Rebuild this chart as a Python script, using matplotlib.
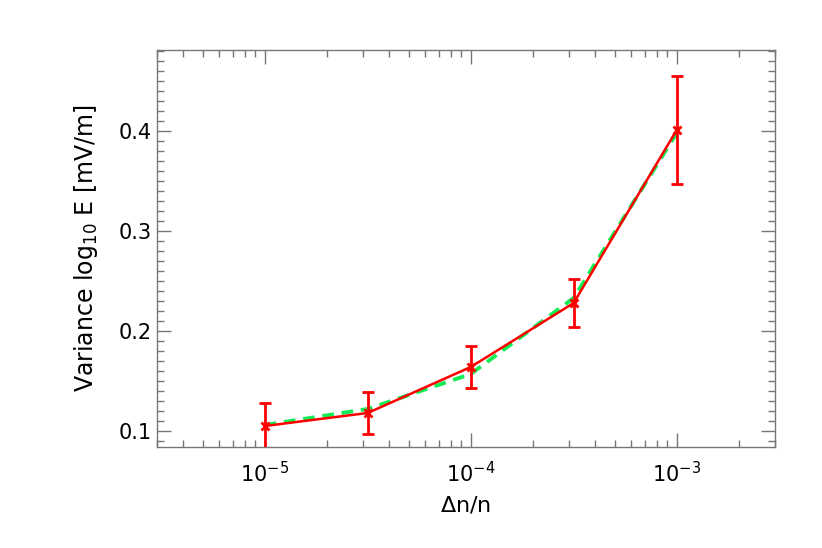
import matplotlib
matplotlib.use("Agg")
import matplotlib.pyplot as plt
import numpy as np
from matplotlib.ticker import LogLocator, MultipleLocator, FixedLocator, NullFormatter

dn_n = [1e-5, 3.16e-5, 1e-4, 3.16e-4, 1e-3]
variance = [0.105, 0.118, 0.164, 0.228, 0.401]
variance_err = [0.023, 0.021, 0.021, 0.024, 0.054]
fit = [0.106, 0.122, 0.157, 0.233, 0.398]

fig = plt.figure(figsize=(8.22, 5.48), dpi=100)
ax = fig.add_axes([157/822, 1-447/548, (775-157)/822, (447-50)/548])

ax.plot(dn_n, fit, color='#11ee55', lw=2.8, ls=(0, (3, 2)), zorder=2)
ax.errorbar(dn_n, variance, yerr=variance_err, color='#ff0000', lw=1.8,
            marker='x', ms=6, mew=2.0, capsize=4, capthick=2.0, elinewidth=2.0, zorder=3)

ax.set_xscale('log')
ax.set_xlim(3e-6, 3e-3)
ax.set_ylim(0.084, 0.481)
ax.xaxis.set_major_locator(FixedLocator([1e-5, 1e-4, 1e-3]))
ax.xaxis.set_minor_locator(LogLocator(base=10, subs=np.arange(2, 10)))
ax.xaxis.set_minor_formatter(NullFormatter())
ax.set_xticklabels([r'$10^{-5}$', r'$10^{-4}$', r'$10^{-3}$'])
ax.yaxis.set_major_locator(FixedLocator([0.1, 0.2, 0.3, 0.4]))
ax.yaxis.set_minor_locator(MultipleLocator(0.01))
ax.set_yticklabels(['0.1', '0.2', '0.3', '0.4'])

for s in ax.spines.values():
    s.set_color('#777777')
    s.set_linewidth(1.0)
ax.tick_params(which='both', direction='in', top=True, right=True, colors='#777777',
               labelcolor='black', labelsize=15)
ax.tick_params(which='major', length=10, width=1)
ax.tick_params(which='minor', length=5, width=1)
ax.tick_params(axis='x', which='major', pad=10)

ax.set_xlabel(r'$\Delta$n/n', fontsize=16, labelpad=6)
ax.set_ylabel(r'Variance log$_{10}$ E [mV/m]', fontsize=17, labelpad=14)

fig.savefig('out.png', dpi=100)
